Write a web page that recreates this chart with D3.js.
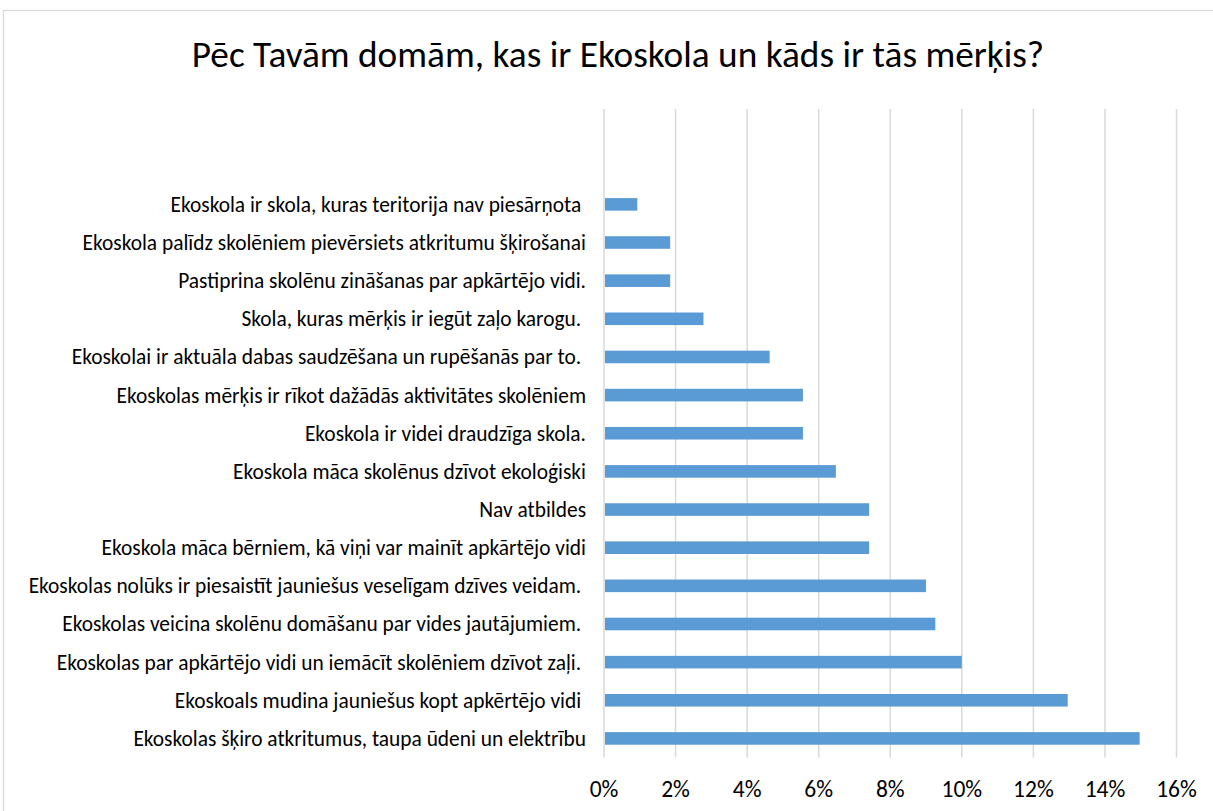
<!DOCTYPE html>
<html>
<head>
<meta charset="utf-8">
<script src="https://cdn.jsdelivr.net/npm/d3@7"></script>
<style>
  body { margin: 0; background: #fff; }
  text { font-family: Calibri, Carlito, "Open Sans", sans-serif; fill: #000; }
</style>
</head>
<body>
<div id="chart"></div>
<script>
// answers, top to bottom as shown
const categories = [
  "Ekoskola ir skola, kuras teritorija nav piesārņota ",
  "Ekoskola palīdz skolēniem pievērsiets atkritumu šķirošanai",
  "Pastiprina skolēnu zināšanas par apkārtējo vidi.",
  "Skola, kuras mērķis ir iegūt zaļo karogu. ",
  "Ekoskolai ir aktuāla dabas saudzēšana un rupēšanās par to. ",
  "Ekoskolas mērķis ir rīkot dažādās aktivitātes skolēniem",
  "Ekoskola ir videi draudzīga skola.",
  "Ekoskola māca skolēnus dzīvot ekoloģiski",
  "Nav atbildes",
  "Ekoskola māca bērniem, kā viņi var mainīt apkārtējo vidi",
  "Ekoskolas nolūks ir piesaistīt jauniešus veselīgam dzīves veidam. ",
  "Ekoskolas veicina skolēnu domāšanu par vides jautājumiem. ",
  "Ekoskolas par apkārtējo vidi un iemācīt skolēniem dzīvot zaļi. ",
  "Ekoskoals mudina jauniešus kopt apkērtējo vidi ",
  "Ekoskolas šķiro atkritumus, taupa ūdeni un elektrību"
];
const values = [0.93, 1.85, 1.85, 2.78, 4.63, 5.56, 5.56, 6.48, 7.41, 7.41, 9.0, 9.26, 10.0, 12.96, 14.97];
const xTicks = [0, 2, 4, 6, 8, 10, 12, 14, 16];
const title = "Pēc Tavām domām, kas ir Ekoskola un kāds ir tās mērķis?";

const width = 1213, height = 811;
const plot = {left: 604, right: 1176.5, top: 109, bottom: 757.5};
// Excel keeps two empty slots above the first bar
const step = (plot.bottom - plot.top) / (categories.length + 2);

const svg = d3.select("#chart").append("svg")
  .attr("width", width)
  .attr("height", height);

svg.append("rect")
  .attr("x", 3.5).attr("y", 10.5)
  .attr("width", 1240).attr("height", 820)
  .attr("fill", "#fff")
  .attr("stroke", "#d9d9d9")
  .attr("stroke-width", 1.3);

svg.append("text")
  .attr("x", 618)
  .attr("y", 67)
  .attr("text-anchor", "middle")
  .style("font-size", "37.3px")
  .text(title);

const x = d3.scaleLinear().domain([0, 16]).range([plot.left, plot.right]);
const y = d3.scaleBand()
  .domain(categories)
  .range([plot.bottom - step * categories.length, plot.bottom])
  .paddingInner(0.67)
  .paddingOuter(0.335);

// gridlines
svg.append("g")
  .selectAll("line")
  .data(xTicks)
  .join("line")
  .attr("x1", d => x(d)).attr("x2", d => x(d))
  .attr("y1", plot.top).attr("y2", plot.bottom)
  .attr("stroke", "#d9d9d9")
  .attr("stroke-width", 1.5);

svg.append("g")
  .selectAll("rect")
  .data(values)
  .join("rect")
  .attr("x", x(0) + 1)
  .attr("y", (d, i) => y(categories[i]))
  .attr("width", d => x(d) - x(0) - 1)
  .attr("height", y.bandwidth())
  .attr("fill", "#5b9bd5");

// category labels
svg.append("g")
  .selectAll("text")
  .data(categories)
  .join("text")
  .attr("x", 586)
  .attr("y", d => y(d) + y.bandwidth() / 2)
  .attr("dy", "0.35em")
  .attr("text-anchor", "end")
  .style("font-size", "21.4px")
  .style("white-space", "pre")
  .text(d => d);

// x axis tick labels
svg.append("g")
  .selectAll("text")
  .data(xTicks)
  .join("text")
  .attr("x", d => x(d))
  .attr("y", 797)
  .attr("text-anchor", "middle")
  .style("font-size", "23.5px")
  .text(d => d + "%");
</script>
</body>
</html>
